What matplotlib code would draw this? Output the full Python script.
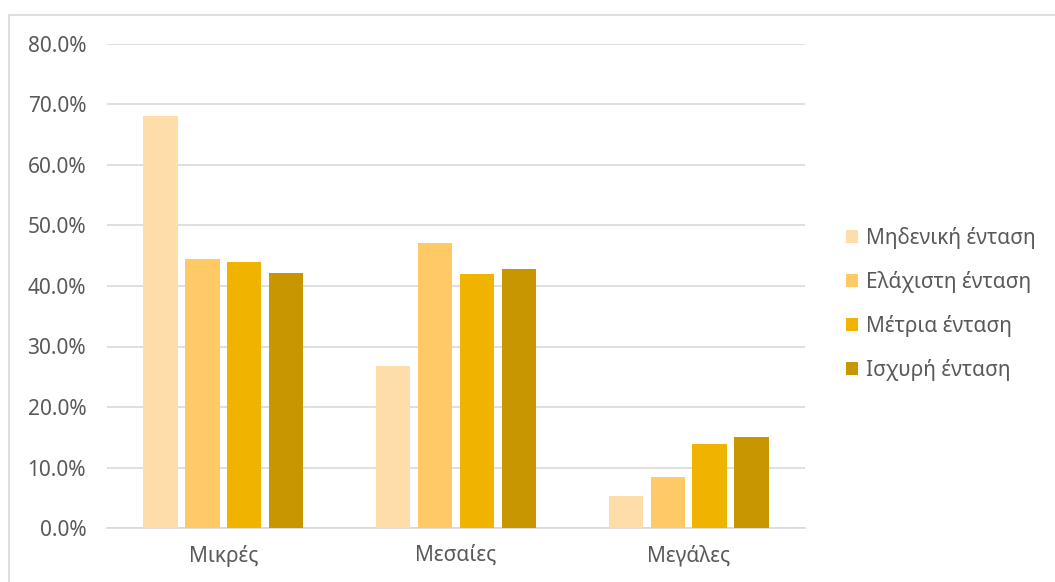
import matplotlib
matplotlib.use("Agg")
import matplotlib.pyplot as plt
import numpy as np
from matplotlib.patches import Rectangle, Patch

plt.rcParams['font.family'] = ['Noto Sans', 'DejaVu Sans']

categories = ["Μικρές", "Μεσαίες", "Μεγάλες"]
series_names = ["Μηδενική ένταση", "Ελάχιστη ένταση", "Μέτρια ένταση", "Ισχυρή ένταση"]
zero_int = [68.1, 26.8, 5.3]
min_int = [44.4, 47.1, 8.4]
mod_int = [44.0, 42.0, 13.9]
strong_int = [42.1, 42.8, 15.0]
yticks = [0, 10, 20, 30, 40, 50, 60, 70, 80]
colors = ["#FFDDA8", "#FFC966", "#F0B400", "#C89700"]

values = [zero_int, min_int, mod_int, strong_int]

fig = plt.figure(figsize=(10.55, 5.82), dpi=100)
W, H = 1055, 582
ax = fig.add_axes([107 / W, 1 - 528 / H, (805 - 107) / W, (528 - 44) / H])

x = np.arange(len(categories))
bw = 0.148
step = 0.18
for i, (vals, c) in enumerate(zip(values, colors)):
    ax.bar(x + (i - 1.5) * step, vals, width=bw, color=c, zorder=3, label=series_names[i])

ax.set_xlim(-0.5, 2.5)
ax.set_ylim(0, 80)
ax.set_yticks(yticks)
ax.set_yticklabels([f"{v:.1f}%" for v in yticks])
ax.set_xticks(x)
ax.set_xticklabels(categories)
ax.yaxis.grid(True, color="#D9D9D9", linewidth=1.2, zorder=0)
ax.set_axisbelow(True)
for s in ["left", "right", "top"]:
    ax.spines[s].set_visible(False)
ax.spines["bottom"].set_color("#D9D9D9")
ax.spines["bottom"].set_linewidth(1.2)
ax.tick_params(axis="both", length=0, labelsize=15, labelcolor="#595959")
ax.tick_params(axis="y", pad=15)
ax.tick_params(axis="x", pad=12)

handles = [Patch(facecolor=c, edgecolor="none") for c in colors]
leg = fig.legend(handles, series_names, loc="center left", bbox_to_anchor=(827 / W, 1 - 304 / H),
                 frameon=False, fontsize=15, labelspacing=1.05, handlelength=0.6, handleheight=0.6,
                 handletextpad=0.35)
for t in leg.get_texts():
    t.set_color("#595959")

fig.patches.append(Rectangle((9 / W, -0.1), 1.2, 1 - 15 / H + 0.1, transform=fig.transFigure,
                             fill=False, edgecolor="#D9D9D9", linewidth=1.2))

fig.savefig("out.png", dpi=100)
